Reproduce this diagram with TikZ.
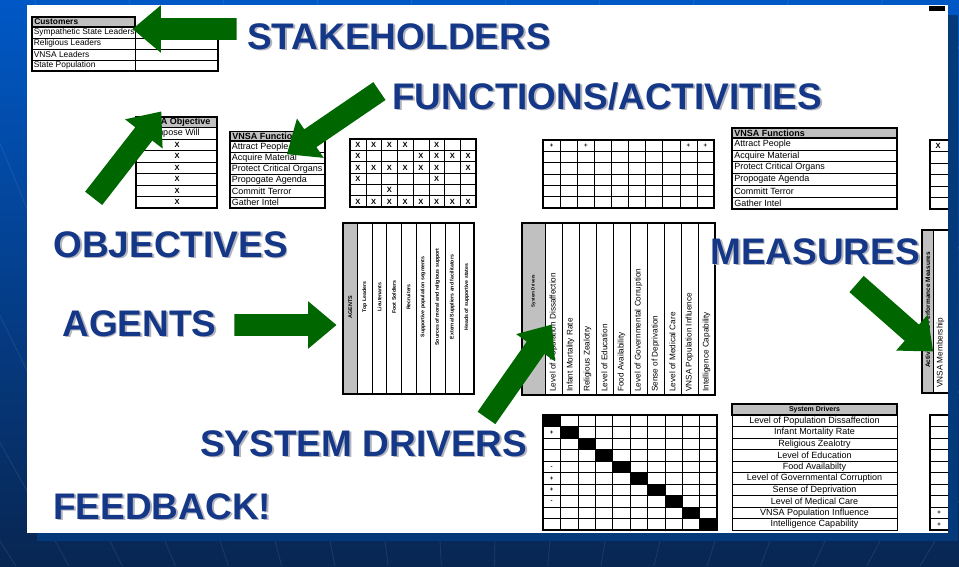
\documentclass[tikz,border=0pt]{standalone}
\usepackage{fontspec}
\setmainfont{Liberation Sans}
\usetikzlibrary{shapes.arrows}

\definecolor{arrowgreen}{RGB}{0,102,0}
\definecolor{labelblue}{RGB}{20,55,135}
\definecolor{labelshade}{RGB}{180,180,190}
\definecolor{headgray}{RGB}{192,192,192}
\definecolor{slidetop}{RGB}{0,88,198}
\definecolor{slidebottom}{RGB}{8,38,82}
\definecolor{panelshade}{RGB}{4,58,122}

\tikzset{every picture/.style={line width=0.6pt}}
\tikzset{
  tabline/.style={line width=0.5pt},
  tabframe/.style={line width=1.2pt},
  tabtxt/.style={font=\fontsize{9}{10}\selectfont, inner sep=0pt},
  tabhead/.style={font=\fontsize{9}{10}\selectfont\bfseries, inner sep=0pt},
  custtxt/.style={font=\fontsize{8.4}{9}\selectfont, inner sep=0pt},
  xmark/.style={font=\fontsize{7.5}{8}\selectfont\bfseries, inner sep=0pt},
  pmark/.style={font=\fontsize{6}{6}\selectfont\bfseries, inner sep=0pt},
  vlab/.style={font=\fontsize{8.2}{9}\selectfont, inner sep=0pt, rotate=90, anchor=west},
  vhead/.style={font=\fontsize{5.2}{6}\selectfont\bfseries, inner sep=0pt, rotate=90},
  biglabel/.style={font=\fontsize{37}{37}\selectfont\bfseries, text=labelblue, inner sep=0pt, anchor=base west},
  garrow/.style={single arrow, fill=arrowgreen, draw=none, inner xsep=0pt, inner ysep=10.5pt,
    single arrow head extend=13pt, single arrow tip angle=80},
  bgray/.style={white, opacity=0.09, line width=0.8pt}
}

\newcommand{\slidelabel}[3]{%
  \node[biglabel, text=labelshade, xshift=1.8pt, yshift=-1.8pt] (#1shade) at (#2) {#3};
  \node[biglabel] (#1) at (#2) {#3};}

\begin{document}
\begin{tikzpicture}[x=1pt,y=1pt,yscale=-1,xscale=1]
	\useasboundingbox (0,0) rectangle (959,566);
	
	%Shape: Background
	\shade[top color=slidetop, bottom color=slidebottom] (0,0) rectangle (959,566);
	\begin{scope}
		\clip (0,0) rectangle (959,566);
		\foreach \bx in {-330,-275,...,1290}
			\draw[bgray] ({480+(\bx-480)*0.967},566) -- ({480+(\bx-480)*1.713},0);
	\end{scope}
	%Shape: Panel
	\fill[panelshade] (37,15) rectangle (958,541);
	\fill[white] (27,5) rectangle (948,533);
	
	\begin{scope}
	\clip (27,5) rectangle (948,533);
	
	%Shape: Table customers
	\draw[tabline, fill=headgray] (32,17) rectangle (135,27);
	\node[tabhead, font=\fontsize{8.4}{9}\selectfont\bfseries, anchor=west] (custhead) at (34,22) {Customers};
	\foreach \t [count=\i from 0] in {Sympathetic State Leaders,Religious Leaders,VNSA Leaders,State Population}{
		\draw[tabline] (32,{27+11*\i}) rectangle (135,{38+11*\i}) (135,{27+11*\i}) rectangle (218,{38+11*\i});
		\node[custtxt, anchor=west] (cust\i) at (33.5,{32.6+11*\i}) {\t};
	}
	\draw[tabframe] (32,17) rectangle (135,27);
	\draw[tabframe] (32,27) rectangle (218,71);
	
	%Shape: Table objective
	\draw[tabline, fill=headgray] (136,117) rectangle (217,127.5);
	\node[tabhead] (objhead) at (176.5,122.4) {VNSA Objective};
	\foreach \i in {0,...,6} \draw[tabline] (136,{127.5+11.5*\i}) rectangle (217,{139+11.5*\i});
	\node[tabtxt] (objwill) at (176.5,133.3) {Impose Will};
	\foreach \i in {1,...,6} \node[xmark] (objx\i) at (177,{133.3+11.5*\i}) {X};
	\draw[tabframe] (136,117) rectangle (217,208);
	
	%Shape: Table functions (left)
	\draw[tabline, fill=headgray] (230,131.5) rectangle (325,141);
	\node[tabhead, anchor=west] (funhead) at (232,136.4) {VNSA Functions};
	\foreach \t [count=\i from 0] in {Attract People,Acquire Material,Protect Critical Organs,Propogate Agenda,Committ Terror,Gather Intel}{
		\draw[tabline] (230,{141+11.17*\i}) rectangle (325,{152.17+11.17*\i});
		\node[tabtxt, anchor=west] (fun\i) at (231.5,{146.7+11.17*\i}) {\t};
	}
	\draw[tabframe] (230,131.5) rectangle (325,141);
	\draw[tabframe] (230,141) rectangle (325,208);
	
	%Shape: Matrix functions x agents
	\foreach \c in {0,...,8} \draw[tabline] ({350+15.75*\c},139) -- ({350+15.75*\c},207);
	\foreach \r in {0,...,6} \draw[tabline] (350,{139+11.33*\r}) -- (476,{139+11.33*\r});
	\draw[tabframe] (350,139) rectangle (476,207);
	\foreach \r/\c in {1/1,1/2,1/3,1/4,1/6,2/1,2/5,2/6,2/7,2/8,3/1,3/2,3/3,3/4,3/5,3/6,3/8,4/1,4/6,5/3,6/1,6/2,6/3,6/4,6/5,6/6,6/7,6/8}
		\node[xmark] (xm\r\c) at ({350+15.75*(\c-0.5)},{139.3+11.33*(\r-0.5)}) {X};
	
	%Shape: Matrix functions x drivers
	\foreach \c in {0,...,10} \draw[tabline] ({543+17.1*\c},140) -- ({543+17.1*\c},208);
	\foreach \r in {0,...,6} \draw[tabline] (543,{140+11.33*\r}) -- (714,{140+11.33*\r});
	\draw[tabframe] (543,140) rectangle (714,208);
	\foreach \c in {1,3,9,10}
		\node[pmark] (fd\c) at ({543+17.1*(\c-0.5)},145.7) {+};
	
	%Shape: Table functions (right)
	\draw[tabline, fill=headgray] (732,128) rectangle (897,138);
	\node[tabhead, anchor=west] (rfunhead) at (734,133) {VNSA Functions};
	\foreach \t [count=\i from 0] in {Attract People,Acquire Material,Protect Critical Organs,Propogate Agenda,Committ Terror,Gather Intel}{
		\draw[tabline] (732,{138+11.83*\i}) rectangle (897,{149.83+11.83*\i});
		\node[tabtxt, anchor=west] (rfun\i) at (734,{144+11.83*\i}) {\t};
	}
	\draw[tabframe] (732,128) rectangle (897,138);
	\draw[tabframe] (732,138) rectangle (897,209);
	\foreach \i in {0,...,5} \draw[tabline] (930,{140+11.5*\i}) rectangle (955,{151.5+11.5*\i});
	\draw[tabframe] (930,140) rectangle (955,209);
	\node[xmark] (rfunx) at (938,145.8) {X};
	
	%Shape: Table agents
	\draw[tabline, fill=headgray] (343,223) rectangle (357.6,394);
	\foreach \c in {1,...,8} \draw[tabline] ({343+14.56*\c},223) -- ({343+14.56*\c},394);
	\draw[tabframe] (343,223) rectangle (474,394);
	\node[vhead, font=\fontsize{5.4}{6}\selectfont\bfseries] (aghead) at (350.3,307) {AGENTS};
	\foreach \t [count=\i] in {Top Leaders,Lieutenants,Foot Soldiers,Recruiters,Supportive population segments,Sources of moral and religious support,External Suppliers and facilitators,Heads of supportive states}
		\node[vhead] (ag\i) at ({343+14.56*(\i+0.5)},297) {\t};
	
	%Shape: Table drivers (vertical)
	\draw[tabline, fill=headgray] (522,223) rectangle (545,395);
	\foreach \c in {1,...,9} \draw[tabline] ({545+17*\c},223) -- ({545+17*\c},395);
	\draw[tabframe] (522,223) rectangle (715,395);
	\node[vhead, font=\fontsize{4.5}{5}\selectfont\bfseries] (sdhead) at (533.5,291) {System Drivers};
	\foreach \t [count=\i] in {Level of Population Dissaffection,Infant Mortality Rate,Religious Zealotry,Level of Education,Food Availability,Level of Governmental Corruption,Sense of Deprivation,Level of Medical Care,VNSA Population Influence,Intelligence Capability}
		\node[vlab] (sd\i) at ({545+17*(\i-0.5)},392) {\t};
	
	%Shape: Table measures
	\draw[tabline, fill=headgray] (922,230) rectangle (933,393);
	\draw[tabline] (933,230) rectangle (955,393);
	\draw[tabframe] (922,230) rectangle (955,393);
	\node[vhead, font=\fontsize{6.5}{7}\selectfont\bfseries, anchor=west] (mshead) at (927.7,368) {Activities and Performance Measures};
	\node[vlab] (msvnsa) at (940.5,388) {VNSA Membership};
	
	%Shape: Matrix drivers x drivers
	\foreach \i in {0,...,9} \fill ({543+17.4*\i},{415+11.5*\i}) rectangle ++(17.4,11.5);
	\foreach \c in {0,...,10} \draw[tabline] ({543+17.4*\c},415) -- ({543+17.4*\c},530);
	\foreach \r in {0,...,10} \draw[tabline] (543,{415+11.5*\r}) -- (717,{415+11.5*\r});
	\draw[tabframe] (543,415) rectangle (717,530);
	\foreach \r/\m in {2/+,5/-,6/+,7/+,8/-}
		\node[pmark] (dd\r) at (551.7,{415.3+11.5*(\r-0.5)}) {\m};
	
	%Shape: Table drivers (bottom)
	\draw[tabline, fill=headgray] (732,404) rectangle (897,415);
	\node[tabhead, font=\fontsize{7}{7}\selectfont\bfseries] (bsdhead) at (814.5,409.6) {System Drivers};
	\foreach \t [count=\i from 0] in {Level of Population Dissaffection,Infant Mortality Rate,Religious Zealotry,Level of Education,Food Availabilty,Level of Governmental Corruption,Sense of Deprivation,Level of Medical Care,VNSA Population Influence,Intelligence Capability}{
		\draw[tabline] (732,{415+11.5*\i}) rectangle (897,{426.5+11.5*\i});
		\node[tabtxt] (bsd\i) at (814.5,{420.9+11.5*\i}) {\t};
		\draw[tabline] (930,{415+11.5*\i}) rectangle (955,{426.5+11.5*\i});
	}
	\draw[tabframe] (732,404) rectangle (897,415);
	\draw[tabframe] (930,415) rectangle (955,530);
	\node[pmark] (bsdp9) at (939,{415.3+11.5*8.5}) {+};
	\node[pmark] (bsdp10) at (939,{415.3+11.5*9.5}) {+};
	
	%Shape: Corner mark
	\fill (929,6) rectangle (945,10.5);
	\end{scope}
	
	%Shape: Block arrows
	\node[garrow, minimum height=104, rotate=180] (stakearrow) at (191,29) {};
	\node[garrow, minimum height=112, rotate=214.3] (funarrow) at (338.5,119) {};
	\node[garrow, minimum height=110, rotate=52.1] (objarrow) at (123.5,160) {};
	\node[garrow, minimum height=102, rotate=0] (agarrow) at (279,325) {};
	\node[garrow, minimum height=114, rotate=55] (sdarrow) at (515.5,376.5) {};
	\node[garrow, minimum height=102, rotate=-41.4] (msarrow) at (890,313.5) {};
	
	% Text Node
	\slidelabel{stakeholders}{247,49}{STAKEHOLDERS}
	% Text Node
	\slidelabel{functions}{392,109}{FUNCTIONS/ACTIVITIES}
	% Text Node
	\slidelabel{objectives}{53,257}{OBJECTIVES}
	% Text Node
	\slidelabel{agents}{62,336}{AGENTS}
	% Text Node
	\slidelabel{measures}{710,264}{MEASURES}
	% Text Node
	\slidelabel{drivers}{200,456}{SYSTEM DRIVERS}
	% Text Node
	\slidelabel{feedback}{53,519}{FEEDBACK!}
	
\end{tikzpicture}
\end{document}
